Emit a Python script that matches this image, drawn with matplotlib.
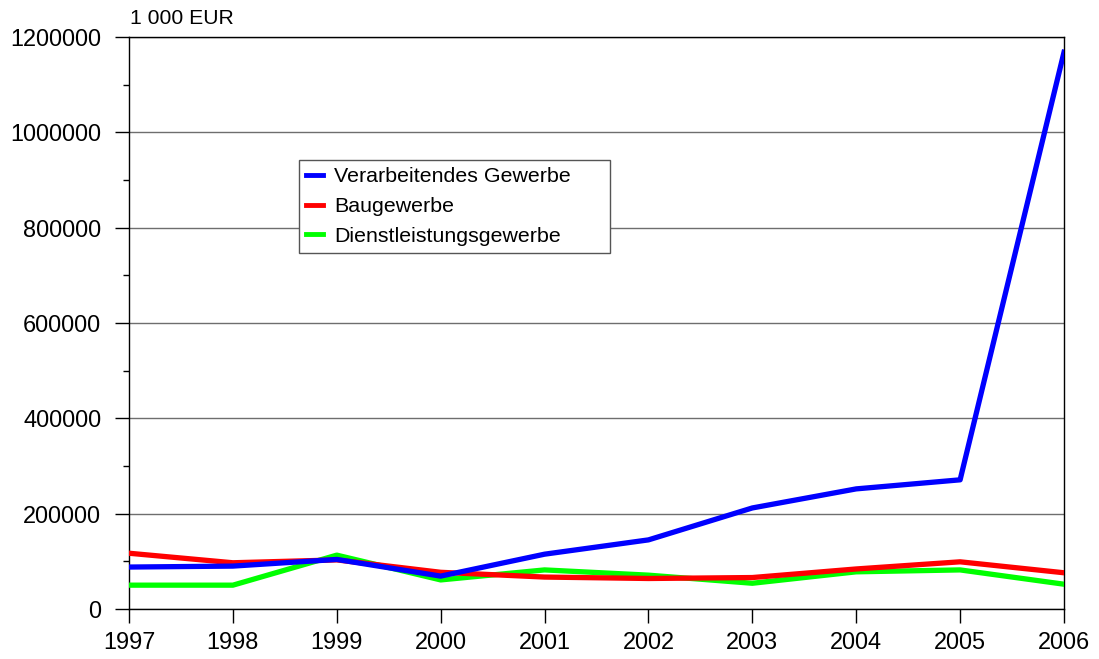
import matplotlib
matplotlib.use('Agg')
import matplotlib.pyplot as plt
from matplotlib.ticker import MultipleLocator, FuncFormatter

plt.rcParams['font.family'] = ['Liberation Sans', 'DejaVu Sans']

#daten
jahre = [1997, 1998, 1999, 2000, 2001, 2002, 2003, 2004, 2005, 2006]
verarbeitendes = [88000, 90000, 104000, 69000, 115000, 145000, 212000, 252000, 271000, 1168000]
baugewerbe = [117000, 97000, 103000, 77000, 67000, 64000, 66000, 84000, 99000, 76000]
dienstleistung = [50000, 50000, 113000, 61000, 82000, 71000, 54000, 78000, 82000, 52000]

fig = plt.figure(figsize=(10.99, 6.59), dpi=100)
ax = fig.add_axes([129/1099, 1-609/659, 935/1099, 572/659])

#linien (blau oben)
l3, = ax.plot(jahre, dienstleistung, color='#00ff00', lw=3.8, zorder=3)
l2, = ax.plot(jahre, baugewerbe, color='#ff0000', lw=3.8, zorder=4)
l1, = ax.plot(jahre, verarbeitendes, color='#0000ff', lw=3.8, zorder=5)

ax.set_xlim(1997, 2006)
ax.set_ylim(0, 1200000)
ax.set_xticks(jahre)
ax.yaxis.set_major_locator(MultipleLocator(200000))
ax.yaxis.set_minor_locator(MultipleLocator(100000))
ax.yaxis.set_major_formatter(FuncFormatter(lambda v, p: '%d' % v))
ax.grid(axis='y', which='major', color='#6e6e6e', lw=1)
ax.set_axisbelow(True)

ax.tick_params(axis='both', which='major', direction='out', length=10, width=1,
               labelsize=16.9, color='black')
ax.tick_params(axis='y', which='major', pad=10)
ax.tick_params(axis='x', which='major', pad=6)
ax.tick_params(axis='y', which='minor', direction='out', length=4.5, width=1)
for s in ax.spines.values():
    s.set_color('black')
    s.set_linewidth(1)

ax.text(0.001, 1.015, '1 000 EUR', transform=ax.transAxes, fontsize=15.2,
        ha='left', va='bottom')

#legende mit breitem rahmen
leg = ax.legend([l1, l2, l3], ['Verarbeitendes Gewerbe', 'Baugewerbe', 'Dienstleistungsgewerbe'],
                loc='upper left', bbox_to_anchor=(0.1818, 0.785, 0.3326, 0), mode='expand',
                borderaxespad=0,
                fontsize=15.4, fancybox=False, framealpha=1, edgecolor='#555555',
                handlelength=0.75, handletextpad=0.55, labelspacing=0.5,
                borderpad=0.35)
leg.get_frame().set_linewidth(1)
for h in leg.get_lines():
    h.set_linewidth(3.5)

plt.savefig('out.png', dpi=100)
